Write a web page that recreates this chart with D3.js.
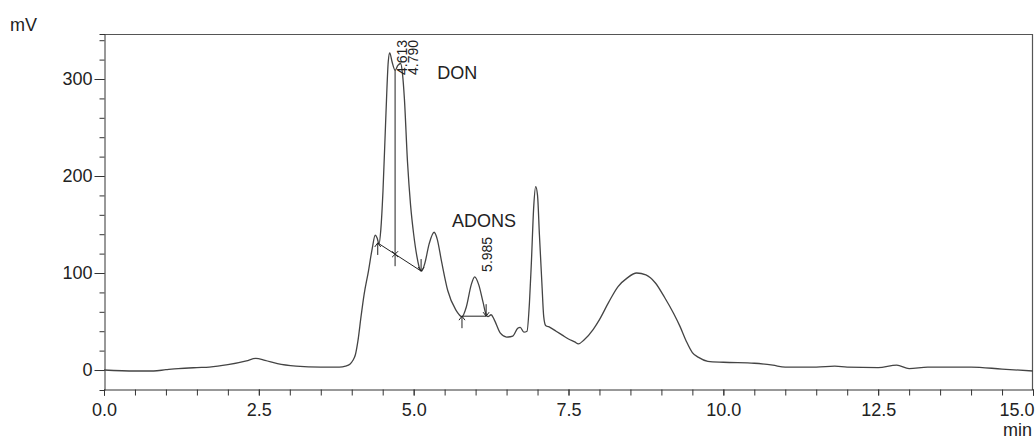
<!DOCTYPE html>
<html>
<head>
<meta charset="utf-8">
<script src="https://cdn.jsdelivr.net/npm/d3@7"></script>
<style>
html,body{margin:0;padding:0;background:#fff;}
svg{display:block;font-family:Arial,"Liberation Sans",sans-serif;}
</style>
</head>
<body>
<svg id="chart" width="1035" height="439"></svg>
<script>
// ---- data ----
const times = [0.0,0.5,0.8,1.0,1.2,1.5,1.7,2.0,2.3,2.45,2.6,2.8,3.1,3.5,3.8,3.9,3.97,4.02,4.06,4.1,4.15,4.2,4.27,4.33,4.38,4.41,4.44,4.47,4.505,4.55,4.59,4.613,4.65,4.70,4.745,4.79,4.82,4.85,4.9,4.95,5.0,5.05,5.1,5.13,5.18,5.25,5.33,5.38,5.45,5.55,5.68,5.78,5.85,5.93,5.985,6.05,6.12,6.17,6.2,6.25,6.3,6.4,6.5,6.6,6.68,6.72,6.78,6.83,6.87,6.9,6.94,6.97,7.0,7.03,7.07,7.1,7.13,7.2,7.3,7.4,7.5,7.6,7.66,7.75,7.9,8.0,8.15,8.3,8.45,8.6,8.75,8.9,9.05,9.2,9.3,9.4,9.5,9.6,9.75,10.0,10.5,10.8,11.0,11.5,11.8,12.0,12.5,12.8,13.0,13.3,13.5,14.0,14.5,15.0];
const signal = [0,-1,-1,0.3,1.5,2.5,3,5.5,9.5,12,10,6.5,4,3,3,4,6,10,16,30,55,78,102,125,139,136,130,145,185,260,318,327,318,309,314,316,305,280,215,170,140,118,104,102,110,130,142,135,112,82,62,55,65,88,96,88,70,57,55,57,52,38,34,35,43,44,39,40,70,110,170,189,180,140,90,55,46,44,40,36,32,29,27,31,42,52,70,86,95,100,98,90,75,58,45,30,18,13,9,8,7,5,3,3,4,3,2.5,5,1.5,3,3,3,1,-1];

const xTicks = [0, 2.5, 5, 7.5, 10, 12.5, 15];
const xTickLabels = ["0.0","2.5","5.0","7.5","10.0","12.5","15.0"];
const yTicks = [0, 100, 200, 300];
const yTickLabels = ["0","100","200","300"];

const peakTimes = [4.613, 4.790, 5.985];
const peakValues = [327, 316, 96];
const peakLabels = ["4.613", "4.790", "5.985"];

const compoundNames = ["DON", "ADONS"];
const compoundTimes = [5.38, 5.62];
const compoundValues = [300, 147];

// integration baselines: [time, value]
const baselineStart = [[4.42, 131], [5.78, 55.5]];
const baselineEnd = [[5.12, 102], [6.17, 55.5]];
const dropTimes = [4.70];
const dropTops = [309];

// ---- drawing ----
const svg = d3.select("#chart");
const x = d3.scaleLinear().domain([0, 15]).range([104, 1033]);
const y = d3.scaleLinear().domain([-20.6, 346.4]).range([390, 34]);
const ink = "#222";
const frame = "#555";

// frame top/right
svg.append("line").attr("x1", 104).attr("x2", 1033).attr("y1", 34.5).attr("y2", 34.5).attr("stroke", frame).attr("stroke-width", 1.2);
svg.append("line").attr("x1", 1032.5).attr("x2", 1032.5).attr("y1", 34).attr("y2", 390).attr("stroke", frame).attr("stroke-width", 1.2);

// x axis
const xMinor = d3.range(0, 15.001, 0.5);
const gx = svg.append("g").attr("transform", "translate(0,389.5)")
  .call(d3.axisBottom(x).tickValues(xMinor).tickSize(6).tickFormat(""));
gx.selectAll("path,line").attr("stroke", "#333");
const gx2 = svg.append("g").attr("transform", "translate(0,389.5)")
  .call(d3.axisBottom(x).tickValues(xTicks).tickSize(6).tickPadding(8)
    .tickFormat((d, i) => xTickLabels[i]));
gx2.select("path").remove();
gx2.selectAll("line").attr("stroke", "#333");
gx2.selectAll("text").attr("font-size", 18).attr("fill", ink)
  .attr("font-family", "Arial, 'Liberation Sans', sans-serif")
  .attr("text-anchor", (d, i) => i === xTicks.length - 1 ? "end" : "middle")
  .attr("dx", (d, i) => i === xTicks.length - 1 ? 1 : 0);

// y axis
const yMinor = d3.range(-20, 341, 20);
const gy = svg.append("g").attr("transform", "translate(104.5,0)")
  .call(d3.axisLeft(y).tickValues(yMinor.filter(v => v >= 0)).tickSize(5).tickFormat(""));
gy.selectAll("path,line").attr("stroke", "#333");
const gy2 = svg.append("g").attr("transform", "translate(104.5,0)")
  .call(d3.axisLeft(y).tickValues(yTicks).tickSize(10).tickPadding(2)
    .tickFormat((d, i) => yTickLabels[i]));
gy2.select("path").remove();
gy2.selectAll("line").attr("stroke", "#333");
gy2.selectAll("text").attr("font-size", 18).attr("fill", ink)
  .attr("font-family", "Arial, 'Liberation Sans', sans-serif");

// axis units
svg.append("text").attr("x", 10).attr("y", 31).attr("font-size", 18).attr("fill", ink).text("mV");
svg.append("text").attr("x", 1032).attr("y", 436).attr("text-anchor", "end").attr("font-size", 18).attr("fill", ink).text("min");

// trace
const pts = times.map((t, i) => [t, signal[i]]);
svg.append("path").datum(pts)
  .attr("fill", "none").attr("stroke", "#444").attr("stroke-width", 1.3)
  .attr("d", d3.line().x(d => x(d[0])).y(d => y(d[1])).curve(d3.curveMonotoneX));

// baselines
const ann = svg.append("g").attr("stroke", ink).attr("stroke-width", 1).attr("fill", "none");
baselineStart.forEach((s, i) => {
  const e = baselineEnd[i];
  const x1 = x(s[0]), y1 = y(s[1]), x2 = x(e[0]), y2 = y(e[1]);
  ann.append("line").attr("x1", x1).attr("y1", y1).attr("x2", x2).attr("y2", y2);
  ann.append("line").attr("x1", x1).attr("x2", x1).attr("y1", y1).attr("y2", y1 + 12);
  ann.append("path").attr("d", `M${x1 - 3},${y1 + 4}L${x1},${y1}L${x1 + 3},${y1 + 4}`);
  ann.append("line").attr("x1", x2).attr("x2", x2).attr("y1", y2 - 12).attr("y2", y2);
  ann.append("path").attr("d", `M${x2 - 3},${y2 - 4}L${x2},${y2}L${x2 + 3},${y2 - 4}`);
});
// drop lines with cross marker
dropTimes.forEach((t, i) => {
  const s = baselineStart[0], e = baselineEnd[0];
  const bv = s[1] + (t - s[0]) / (e[0] - s[0]) * (e[1] - s[1]);
  const xx = x(t), yb = y(bv);
  ann.append("line").attr("x1", xx).attr("x2", xx).attr("y1", y(dropTops[i])).attr("y2", yb + 12);
  ann.append("path").attr("d", `M${xx - 3},${yb - 3}L${xx + 3},${yb + 3}M${xx - 3},${yb + 3}L${xx + 3},${yb - 3}`);
});

// peak retention-time labels (rotated)
peakTimes.forEach((t, i) => {
  const px = x(t) + 17;
  const py = Math.max(y(peakValues[i]) - 5, 75);
  svg.append("text").attr("transform", `translate(${px},${py}) rotate(-90)`)
    .attr("font-size", 14).attr("fill", ink).text(peakLabels[i]);
});

// compound names
compoundNames.forEach((n, i) => {
  svg.append("text").attr("x", x(compoundTimes[i])).attr("y", y(compoundValues[i]))
    .attr("font-size", 18).attr("fill", ink).text(n);
});
</script>
</body>
</html>
